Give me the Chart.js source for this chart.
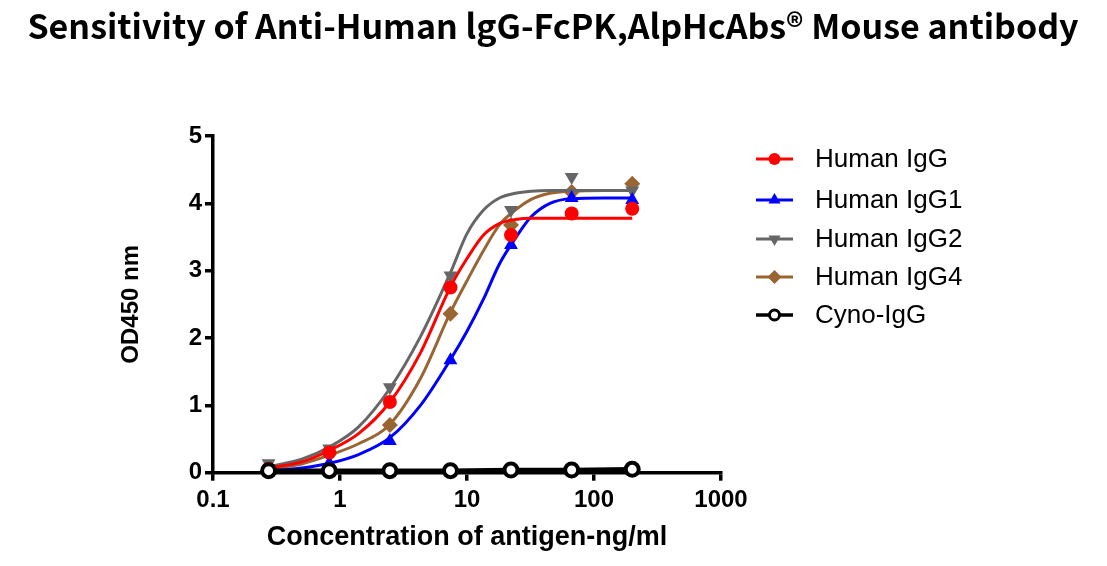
<!DOCTYPE html>
<html>
<head>
<meta charset="utf-8">
<script src="https://cdn.jsdelivr.net/npm/chart.js@4/dist/chart.umd.min.js"></script>
<style>
  html, body { margin: 0; padding: 0; background: #fff; }
  canvas { display: block; }
</style>
</head>
<body>
<canvas id="chart" width="1107" height="566"></canvas>
<script>
const chartTitle = 'Sensitivity of Anti-Human lgG-FcPK,AlpHcAbs\u00AE Mouse antibody'
const xTitle = 'Concentration of antigen-ng/ml'
const yTitle = 'OD450 nm'
const xTicks = [0.1, 1, 10, 100, 1000]

// measured points (3-fold dilution from 200 ng/ml)
const concentrations = [0.274, 0.823, 2.47, 7.41, 22.2, 66.7, 200]
const humanIgG = [0.06, 0.30, 1.05, 2.75, 3.53, 3.85, 3.92]
const humanIgG1 = [0.04, 0.14, 0.47, 1.67, 3.38, 4.08, 4.05]
const humanIgG2 = [0.14, 0.36, 1.27, 2.93, 3.90, 4.39, 4.19]
const humanIgG4 = [0.05, 0.28, 0.71, 2.36, 3.68, 4.17, 4.29]
const cynoIgG = [0.03, 0.03, 0.03, 0.03, 0.04, 0.04, 0.05]

// fitted curves
const curveX = [0.274, 0.5, 0.823, 1.4, 2.47, 4.3, 7.41, 10, 13.5, 18, 24, 32, 45, 66.7, 120, 200]
const fitIgG = [0.07, 0.16, 0.33, 0.58, 1.05, 1.78, 2.76, 3.18, 3.53, 3.70, 3.76, 3.78, 3.78, 3.78, 3.78, 3.78]
const fitIgG1 = [0.03, 0.07, 0.14, 0.27, 0.52, 1.0, 1.68, 2.1, 2.58, 3.1, 3.48, 3.8, 4.0, 4.07, 4.08, 4.08]
const fitIgG2 = [0.09, 0.2, 0.38, 0.68, 1.25, 2.02, 2.97, 3.55, 3.9, 4.08, 4.15, 4.18, 4.19, 4.19, 4.19, 4.19]
const fitIgG4 = [0.06, 0.13, 0.26, 0.43, 0.72, 1.4, 2.38, 2.85, 3.3, 3.68, 3.9, 4.06, 4.15, 4.18, 4.19, 4.19]

const series = [
    { label: 'Human IgG', points: humanIgG, fit: fitIgG, color: '#ff0000', pointStyle: 'circle', radius: 7, rotation: 0 },
    { label: 'Human IgG1', points: humanIgG1, fit: fitIgG1, color: '#0000ff', pointStyle: 'triangle', radius: 8, rotation: 0 },
    { label: 'Human IgG2', points: humanIgG2, fit: fitIgG2, color: '#666666', pointStyle: 'triangle', radius: 8, rotation: 180 },
    { label: 'Human IgG4', points: humanIgG4, fit: fitIgG4, color: '#996633', pointStyle: 'rectRot', radius: 8, rotation: 0 },
    { label: 'Cyno-IgG', points: cynoIgG, fit: null, color: '#000000', pointStyle: 'circle', radius: 6.5, rotation: 0, open: true },
]

const toXY = (xs, ys) => xs.map((x, i) => ({ x: x, y: ys[i] }))

const FONT = "'Liberation Sans', Arial, sans-serif"

// cyno first so it is drawn on top
const ordered = [series[4], series[0], series[1], series[2], series[3]]
const datasets = []
ordered.forEach(s => {
    if (s.open) {
        datasets.push({
            label: s.label,
            data: toXY(concentrations, s.points),
            showLine: true,
            borderColor: s.color,
            borderWidth: 4.5,
            pointStyle: 'circle',
            pointRadius: s.radius,
            pointBackgroundColor: '#ffffff',
            pointBorderColor: s.color,
            pointBorderWidth: 4,
        })
        return
    }
    datasets.push({
        label: s.label,
        data: toXY(concentrations, s.points),
        showLine: false,
        pointStyle: s.pointStyle,
        pointRotation: s.rotation,
        pointRadius: s.radius,
        pointBackgroundColor: s.color,
        pointBorderColor: s.color,
        pointBorderWidth: 0,
    })
    datasets.push({
        label: s.label + ' fit',
        data: toXY(curveX, s.fit),
        showLine: true,
        borderColor: s.color,
        borderWidth: 3,
        pointRadius: 0,
        cubicInterpolationMode: 'monotone',
    })
})

const titlePlugin = {
    id: 'bigTitle',
    afterDraw(chart) {
        const ctx = chart.ctx
        ctx.save()
        ctx.fillStyle = '#000'
        ctx.font = "bold 34px 'Noto Sans CJK SC', 'Noto Sans', sans-serif"
        ctx.textAlign = 'center'
        ctx.textBaseline = 'middle'
        ctx.fillText(chartTitle, 553, 26)
        ctx.restore()
    }
}

const legendPlugin = {
    id: 'sideLegend',
    afterDraw(chart) {
        const ctx = chart.ctx
        const rows = [159, 200, 239, 277, 315]
        ctx.save()
        series.forEach((s, i) => {
            const y = rows[i]
            ctx.strokeStyle = s.color
            ctx.lineWidth = s.open ? 3.5 : 3
            ctx.beginPath()
            ctx.moveTo(756, y)
            ctx.lineTo(793, y)
            ctx.stroke()
            ctx.fillStyle = s.open ? '#fff' : s.color
            ctx.lineWidth = s.open ? 3 : 0
            Chart.helpers.drawPoint(ctx, {
                pointStyle: s.pointStyle,
                radius: s.open ? 5 : s.radius - 1,
                rotation: s.rotation,
                borderWidth: s.open ? 3 : 0,
            }, 774.5, y)
            ctx.fillStyle = '#000'
            ctx.font = '26px ' + FONT
            ctx.textAlign = 'left'
            ctx.textBaseline = 'middle'
            ctx.fillText(s.label, 815, y + 1)
        })
        ctx.restore()
    }
}

new Chart(document.querySelector('#chart').getContext('2d'), {
    type: 'scatter',
    data: { datasets: datasets },
    plugins: [titlePlugin, legendPlugin],
    options: {
        responsive: false,
        animation: false,
        devicePixelRatio: 1,
        clip: false,
        layout: { padding: { left: 117, right: 386, top: 136, bottom: 8 } },
        plugins: {
            legend: { display: false },
            tooltip: { enabled: false },
        },
        scales: {
            x: {
                type: 'logarithmic',
                min: 0.1,
                max: 1000,
                afterBuildTicks: scale => { scale.ticks = xTicks.map(v => ({ value: v })) },
                afterFit: scale => { scale.height = 85.3 },
                ticks: {
                    color: '#000',
                    font: { family: FONT, size: 24, weight: 'bold' },
                    padding: 5,
                    maxRotation: 0,
                    autoSkip: false,
                    callback: v => String(v),
                },
                grid: { drawOnChartArea: false, drawTicks: true, tickLength: 8, color: '#000', lineWidth: 3.5 },
                border: { color: '#000', width: 3.5 },
                title: {
                    display: true,
                    text: xTitle,
                    color: '#000',
                    font: { family: FONT, size: 27, weight: 'bold' },
                    padding: { top: 4, bottom: 4 },
                },
            },
            y: {
                min: 0,
                max: 5,
                afterFit: scale => { scale.width = 96 },
                ticks: {
                    stepSize: 1,
                    color: '#000',
                    font: { family: FONT, size: 24, weight: 'bold' },
                    padding: 3,
                },
                grid: { drawOnChartArea: false, drawTicks: true, tickLength: 8, color: '#000', lineWidth: 3.5 },
                border: { color: '#000', width: 3.5 },
                title: {
                    display: true,
                    text: yTitle,
                    color: '#000',
                    font: { family: FONT, size: 24, weight: 'bold' },
                    padding: { top: 0, bottom: 0 },
                },
            },
        },
    },
})
</script>
</body>
</html>
